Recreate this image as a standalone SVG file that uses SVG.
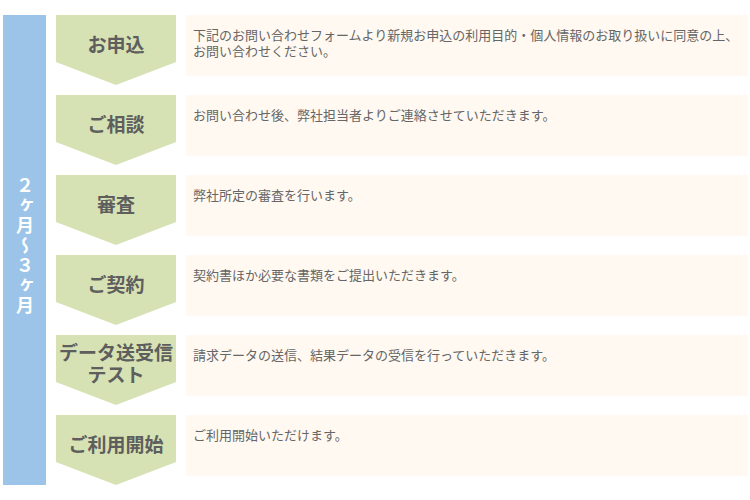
<svg xmlns="http://www.w3.org/2000/svg" width="750" height="500" viewBox="0 0 750 500">
<style>
.step{fill:#d6e2b3}
.box{fill:#fff9f1}
.lbl{font-family:"Noto Sans CJK JP","Noto Sans",sans-serif;font-size:19px;font-weight:bold;fill:#5e5e5e;text-anchor:middle}
.desc{font-family:"Noto Sans CJK JP","Noto Sans",sans-serif;font-size:13px;fill:#666}
.per{font-family:"Noto Sans CJK JP","Noto Sans",sans-serif;font-size:18px;font-weight:bold;fill:#fff}
</style>
<rect width="750" height="500" fill="#fff"/>
<g id="period">
<rect x="3" y="15" width="43" height="470" fill="#9bc4e8"/>
<text class="per" x="25" y="176" writing-mode="vertical-rl" letter-spacing="2">２ヶ月～３ヶ月</text>
</g>
<g id="connectors"></g>
<g id="step1">
<path class="step" d="M56,15H176V62L116,85L56,62Z"/>
<text class="lbl" x="116" y="52">お申込</text>
<rect class="box" x="186" y="15" width="562" height="61"/>
<text class="desc"><tspan x="193" y="40">下記のお問い合わせフォームより新規お申込の利用目的・個人情報のお取り扱いに同意の上、</tspan><tspan x="193" y="56">お問い合わせください。</tspan></text>
</g>
<g id="step2">
<path class="step" d="M56,95H176V142L116,165L56,142Z"/>
<text class="lbl" x="116" y="132">ご相談</text>
<rect class="box" x="186" y="95" width="562" height="61"/>
<text class="desc" x="193" y="120">お問い合わせ後、弊社担当者よりご連絡させていただきます。</text>
</g>
<g id="step3">
<path class="step" d="M56,175H176V222L116,245L56,222Z"/>
<text class="lbl" x="116" y="212">審査</text>
<rect class="box" x="186" y="175" width="562" height="61"/>
<text class="desc" x="193" y="200">弊社所定の審査を行います。</text>
</g>
<g id="step4">
<path class="step" d="M56,255H176V302L116,325L56,302Z"/>
<text class="lbl" x="116" y="292">ご契約</text>
<rect class="box" x="186" y="255" width="562" height="61"/>
<text class="desc" x="193" y="280">契約書ほか必要な書類をご提出いただきます。</text>
</g>
<g id="step5">
<path class="step" d="M56,335H176V382L116,405L56,382Z"/>
<text class="lbl"><tspan x="116" y="360">データ送受信</tspan><tspan x="116" y="382">テスト</tspan></text>
<rect class="box" x="186" y="335" width="562" height="61"/>
<text class="desc" x="193" y="360">請求データの送信、結果データの受信を行っていただきます。</text>
</g>
<g id="step6">
<path class="step" d="M56,415H176V462L116,485L56,462Z"/>
<text class="lbl" x="116" y="452">ご利用開始</text>
<rect class="box" x="186" y="415" width="562" height="61"/>
<text class="desc" x="193" y="440">ご利用開始いただけます。</text>
</g>
</svg>
